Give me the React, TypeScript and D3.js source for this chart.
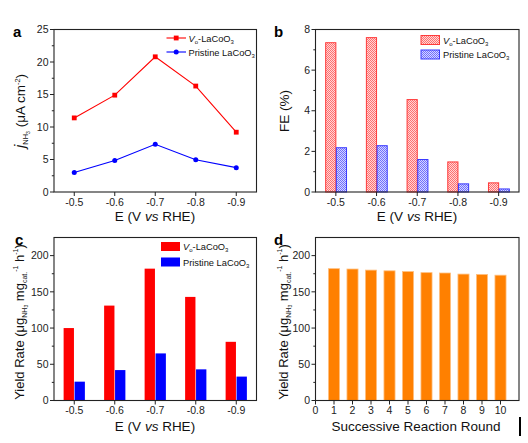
import React from 'react';
import * as d3 from 'd3';

const potentials = [-0.5, -0.6, -0.7, -0.8, -0.9];
const potentialLabels = ['-0.5', '-0.6', '-0.7', '-0.8', '-0.9'];
const currentVo = [11.4, 14.9, 20.8, 16.3, 9.2];
const currentPristine = [3.0, 4.85, 7.35, 4.95, 3.75];
const feVo = [7.35, 7.6, 4.55, 1.48, 0.45];
const fePristine = [2.18, 2.28, 1.6, 0.4, 0.15];
const yieldVo = [100, 131, 182, 143, 81];
const yieldPristine = [26, 42, 65, 43, 33];
const rounds = [1, 2, 3, 4, 5, 6, 7, 8, 9, 10];
const roundYield = [182, 181.5, 180, 179, 178, 176.5, 176, 174.5, 174, 173];
const roundTicks = [0, 1, 2, 3, 4, 5, 6, 7, 8, 9, 10];
const currentTicks = [0, 5, 10, 15, 20, 25];
const feTicks = [0, 2, 4, 6, 8];
const yieldTicks = [0, 50, 100, 150, 200];

const FONT = 'Liberation Sans, Arial, Helvetica, sans-serif';
const RED = '#ff0000';
const BLUE = '#0000ff';
const ORANGE = '#ff8000';
const AXIS = '#222';
const TICK_FS = 10.5;
const TITLE_FS = 13.5;
const LEG_FS = 9.3;

type Box = { l: number; r: number; t: number; b: number };

function Frame({ box, x, y, xTicks, xLabels, yTicks, yMinor }: any) {
  return (
    <g>
      <rect x={box.l} y={box.t} width={box.r - box.l} height={box.b - box.t} fill="none" stroke={AXIS} strokeWidth={1.1} />
      {yTicks.map((v: number) => (
        <g key={'y' + v}>
          <line x1={box.l - 4} x2={box.l} y1={y(v)} y2={y(v)} stroke={AXIS} strokeWidth={1} />
          <text x={box.l - 5.5} y={y(v) + 3.7} textAnchor="end" fontSize={TICK_FS} fill="#222">{v}</text>
        </g>
      ))}
      {yMinor.map((v: number) => (
        <line key={'ym' + v} x1={box.l - 2.2} x2={box.l} y1={y(v)} y2={y(v)} stroke={AXIS} strokeWidth={1} />
      ))}
      {xTicks.map((v: number, i: number) => (
        <g key={'x' + i}>
          <line x1={x(v)} x2={x(v)} y1={box.b} y2={box.b + 4} stroke={AXIS} strokeWidth={1} />
          <text x={x(v)} y={box.b + 13.5} textAnchor="middle" fontSize={TICK_FS} fill="#222">{xLabels[i]}</text>
        </g>
      ))}
    </g>
  );
}

function VoLabel({ x, y }: any) {
  return (
    <text x={x} y={y} fontSize={LEG_FS} fill="#111">
      <tspan fontStyle="italic">V</tspan>
      <tspan fontSize={6} dy={2}>o</tspan>
      <tspan dy={-2}>-LaCoO</tspan>
      <tspan fontSize={6} dy={2}>3</tspan>
    </text>
  );
}

function PrLabel({ x, y }: any) {
  return (
    <text x={x} y={y} fontSize={LEG_FS} fill="#111">
      <tspan>Pristine LaCoO</tspan>
      <tspan fontSize={6} dy={2}>3</tspan>
    </text>
  );
}

function YieldYLabel({ x, y }: any) {
  return (
    <text transform={`translate(${x},${y}) rotate(-90)`} textAnchor="middle" fontSize={13} fill="#111">
      <tspan>Yield Rate (μg</tspan>
      <tspan fontSize={7} dy={3}>NH</tspan>
      <tspan fontSize={5} dy={1.5}>3</tspan>
      <tspan dy={-4.5}> mg</tspan>
      <tspan fontSize={7} dy={3}>cat.</tspan>
      <tspan fontSize={7} dy={-8.5}>-1</tspan>
      <tspan dy={5.5}> h</tspan>
      <tspan fontSize={7} dy={-5.5}>-1</tspan>
      <tspan dy={5.5}>)</tspan>
    </text>
  );
}

function ETitle({ cx, y }: any) {
  return (
    <text x={cx} y={y} textAnchor="middle" fontSize={TITLE_FS} fill="#111">
      <tspan>E (V </tspan>
      <tspan fontStyle="italic">vs</tspan>
      <tspan> RHE)</tspan>
    </text>
  );
}

export default function App() {
  const boxA: Box = { l: 54, r: 256.5, t: 29.5, b: 192 };
  const boxB: Box = { l: 315.5, r: 519, t: 29.5, b: 192 };
  const boxC: Box = { l: 54, r: 256.5, t: 237.5, b: 400.5 };
  const boxD: Box = { l: 315.5, r: 519, t: 237.5, b: 400.5 };

  const xA = d3.scaleLinear().domain([-0.45, -0.95]).range([boxA.l, boxA.r]);
  const yA = d3.scaleLinear().domain([0, 25]).range([boxA.b, boxA.t]);
  const xB = d3.scaleLinear().domain([-0.45, -0.95]).range([boxB.l, boxB.r]);
  const yB = d3.scaleLinear().domain([0, 8]).range([boxB.b, boxB.t]);
  const xC = d3.scaleLinear().domain([-0.45, -0.95]).range([boxC.l, boxC.r]);
  const yC = d3.scaleLinear().domain([0, 225]).range([boxC.b, boxC.t]);
  const xD = d3.scaleLinear().domain([0, 11]).range([boxD.l, boxD.r]);
  const yD = d3.scaleLinear().domain([0, 225]).range([boxD.b, boxD.t]);

  const lineA = d3.line<number>().x((_, i) => xA(potentials[i])).y((d) => yA(d));
  const bwB = Math.abs(xB(0) - xB(0.025));
  const bwC = Math.abs(xC(0) - xC(0.0255));
  const bwD = Math.abs(xD(0.6) - xD(0));

  const minorA = [2.5, 7.5, 12.5, 17.5, 22.5];
  const minorB = [1, 3, 5, 7];
  const minorC = [25, 75, 125, 175];

  return (
    <svg width={528} height={443} style={{ position: 'absolute', left: 0, top: 0, background: '#fff' }} fontFamily={FONT}>
      <defs>
        <pattern id="pRed" width={2} height={2} patternUnits="userSpaceOnUse">
          <rect width={2} height={2} fill="#ffd6d6" />
          <rect width={1} height={1} fill="#ff7070" />
          <rect x={1} y={1} width={1} height={1} fill="#ff7070" />
        </pattern>
        <pattern id="pBlue" width={2} height={2} patternUnits="userSpaceOnUse">
          <rect width={2} height={2} fill="#d6d6ff" />
          <rect width={1} height={1} fill="#7070ff" />
          <rect x={1} y={1} width={1} height={1} fill="#7070ff" />
        </pattern>
      </defs>

      {/* Panel a */}
      <text x={13} y={37} fontSize={15} fontWeight="bold">a</text>
      <Frame box={boxA} x={xA} y={yA} xTicks={potentials} xLabels={potentialLabels} yTicks={currentTicks} yMinor={minorA} />
      <path d={lineA(currentVo) || ''} fill="none" stroke={RED} strokeWidth={1.1} />
      <path d={lineA(currentPristine) || ''} fill="none" stroke={BLUE} strokeWidth={1.1} />
      {currentVo.map((v, i) => (
        <rect key={'sa' + i} x={xA(potentials[i]) - 2.4} y={yA(v) - 2.4} width={4.8} height={4.8} fill={RED} />
      ))}
      {currentPristine.map((v, i) => (
        <circle key={'ca' + i} cx={xA(potentials[i])} cy={yA(v)} r={2.5} fill={BLUE} />
      ))}
      <line x1={166.5} x2={186} y1={38} y2={38} stroke={RED} strokeWidth={1.1} />
      <rect x={173.8} y={35.6} width={4.8} height={4.8} fill={RED} />
      <VoLabel x={188.5} y={41.5} />
      <line x1={166.5} x2={186} y1={52} y2={52} stroke={BLUE} strokeWidth={1.1} />
      <circle cx={176.2} cy={52} r={2.5} fill={BLUE} />
      <PrLabel x={188.5} y={55.5} />
      <ETitle cx={155} y={221} />
      <text transform="translate(25,111) rotate(-90)" textAnchor="middle" fontSize={13.5} fill="#111">
        <tspan fontStyle="italic" fontSize={15}>j</tspan>
        <tspan fontSize={7.5} dy={3}>NH</tspan>
        <tspan fontSize={5} dy={1.5}>3</tspan>
        <tspan dy={-4.5}> (μA cm</tspan>
        <tspan fontSize={7.5} dy={-5.5}>-2</tspan>
        <tspan dy={5.5}>)</tspan>
      </text>

      {/* Panel b */}
      <text x={274} y={37} fontSize={15} fontWeight="bold">b</text>
      {feVo.map((v, i) => (
        <rect key={'rb' + i} x={xB(potentials[i]) - bwB} y={yB(v)} width={bwB} height={yB(0) - yB(v)} fill="url(#pRed)" stroke="#ff3a3a" strokeWidth={1} />
      ))}
      {fePristine.map((v, i) => (
        <rect key={'bb' + i} x={xB(potentials[i]) + 0.5} y={yB(v)} width={bwB} height={yB(0) - yB(v)} fill="url(#pBlue)" stroke="#3a3aff" strokeWidth={1} />
      ))}
      <Frame box={boxB} x={xB} y={yB} xTicks={potentials} xLabels={potentialLabels} yTicks={feTicks} yMinor={minorB} />
      <rect x={421} y={35.5} width={18.5} height={9} fill="url(#pRed)" stroke="#ff3a3a" strokeWidth={1} />
      <VoLabel x={443} y={43.5} />
      <rect x={421} y={50} width={18.5} height={9} fill="url(#pBlue)" stroke="#3a3aff" strokeWidth={1} />
      <PrLabel x={443} y={58} />
      <ETitle cx={417} y={221} />
      <text transform="translate(288.5,111) rotate(-90)" textAnchor="middle" fontSize={TITLE_FS} fill="#111">FE (%)</text>

      {/* Panel c */}
      <text x={15} y={245} fontSize={15} fontWeight="bold">c</text>
      {yieldVo.map((v, i) => (
        <rect key={'rc' + i} x={xC(potentials[i]) - bwC - 0.3} y={yC(v)} width={bwC} height={yC(0) - yC(v)} fill={RED} />
      ))}
      {yieldPristine.map((v, i) => (
        <rect key={'bc' + i} x={xC(potentials[i]) + 0.3} y={yC(v)} width={bwC} height={yC(0) - yC(v)} fill={BLUE} />
      ))}
      <Frame box={boxC} x={xC} y={yC} xTicks={potentials} xLabels={potentialLabels} yTicks={yieldTicks} yMinor={minorC} />
      <rect x={161} y={242} width={19} height={9} fill={RED} />
      <VoLabel x={183} y={250} />
      <rect x={161} y={257.5} width={19} height={9} fill={BLUE} />
      <PrLabel x={183} y={265.5} />
      <ETitle cx={155} y={431} />
      <YieldYLabel x={23.5} y={322} />

      {/* Panel d */}
      <text x={274} y={245} fontSize={15} fontWeight="bold">d</text>
      {roundYield.map((v, i) => (
        <rect key={'od' + i} x={xD(rounds[i]) - bwD / 2} y={yD(v)} width={bwD} height={yD(0) - yD(v)} fill={ORANGE} stroke="#ffc080" strokeWidth={0.8} />
      ))}
      <Frame box={boxD} x={xD} y={yD} xTicks={roundTicks} xLabels={roundTicks.map(String)} yTicks={yieldTicks} yMinor={minorC} />
      <text x={416} y={431} textAnchor="middle" fontSize={TITLE_FS} fill="#111">Successive Reaction Round</text>
      <YieldYLabel x={287.5} y={322} />
      <line x1={520} x2={520} y1={417} y2={436} stroke="#000" strokeWidth={2} />
    </svg>
  );
}
